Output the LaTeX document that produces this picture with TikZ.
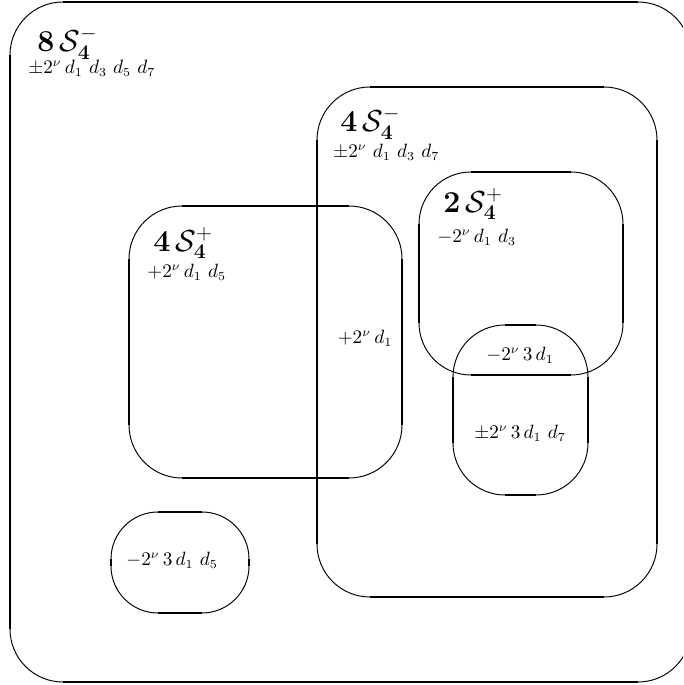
\documentclass[tikz,border=0pt]{standalone}
\usepackage{amsmath,amssymb}
\usepackage{tikz}
\usetikzlibrary{positioning,calc}

\begin{document}
\begin{tikzpicture}[x=0.02cm,y=-0.02cm,
    heavy/.style={line width=1.5pt},
    light/.style={line width=0.55pt},
    setname/.style={font=\fontsize{16.5}{19}\selectfont, anchor=west, inner sep=0pt},
    setword/.style={font=\fontsize{10.7}{12}\selectfont, anchor=west, inner sep=0pt},
    partword/.style={font=\fontsize{10.7}{12}\selectfont, inner sep=0pt}]
    % Page frame
    \useasboundingbox (0,0) rectangle (683,685);
    \clip (0,0) rectangle (683,685);

    % Rounded boxes: thin corners, thick sides
    \foreach \xa/\ya/\xb/\yb/\r in {10/2/691/682/53, 317/87/657/597/53, 129/206/402/478/53, 419/172/623/375/52, 453/325/588/495/52, 111/512/249/613/47}
    {
        \pgfmathsetmacro{\rr}{\r*0.02}
        \draw[light, rounded corners=\rr cm] (\xa,\ya) rectangle (\xb,\yb);
        \draw[heavy] ({\xa+\r},\ya) -- ({\xb-\r},\ya);
        \draw[heavy] ({\xa+\r},\yb) -- ({\xb-\r},\yb);
        \draw[heavy] (\xa,{\ya+\r}) -- (\xa,{\yb-\r});
        \draw[heavy] (\xb,{\ya+\r}) -- (\xb,{\yb-\r});
    }

    % Set names
    \node[setname] (s8m) at (37,43) {$\mathbf{8}\,\mathcal{S}_{\mathbf{4}}^{-}$};
    \node[setname] (s4m) at (340,123) {$\mathbf{4}\,\mathcal{S}_{\mathbf{4}}^{-}$};
    \node[setname] (s4p) at (153,243) {$\mathbf{4}\,\mathcal{S}_{\mathbf{4}}^{+}$};
    \node[setname] (s2p) at (443,204) {$\mathbf{2}\,\mathcal{S}_{\mathbf{4}}^{+}$};

    % Weights
    \node[setword] (w8m) at (28,68) {$\pm 2^{\nu}\,d_1\ d_3\ d_5\ d_7$};
    \node[setword] (w4m) at (333,152) {$\pm 2^{\nu}\ d_1\ d_3\ d_7$};
    \node[setword] (w4p) at (147,272) {$+2^{\nu}\,d_1\ d_5$};
    \node[setword] (w2p) at (437,237) {$-2^{\nu}\,d_1\ d_3$};

    % Overlap weights
    \node[partword] (p1) at (365,338) {$+2^{\nu}\,d_1$};
    \node[partword] (p2) at (520,355) {$-2^{\nu}\,3\,d_1$};
    \node[partword] (p3) at (520,433) {$\pm 2^{\nu}\,3\,d_1\ d_7$};
    \node[partword] (p4) at (172,560) {$-2^{\nu}\,3\,d_1\ d_5$};
\end{tikzpicture}
\end{document}
